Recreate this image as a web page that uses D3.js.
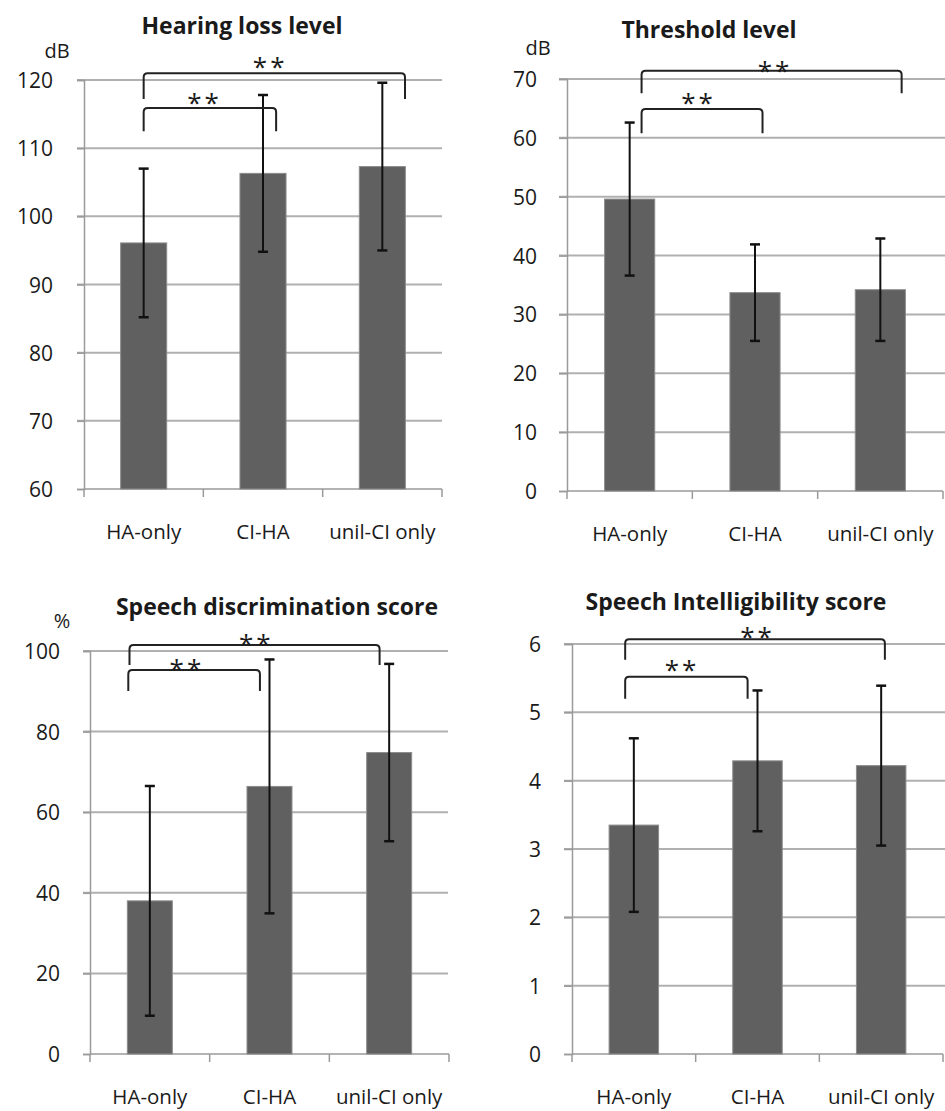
<!DOCTYPE html>
<html>
<head>
<meta charset="utf-8">
<script src="https://cdn.jsdelivr.net/npm/d3@7"></script>
<style>
  body { margin: 0; background: #fff; }
  text { font-family: "Open Sans", sans-serif; fill: #1a1a1a; }
</style>
</head>
<body>
<div id="chart"></div>
<script>
// data
var categories = ["HA-only", "CI-HA", "unil-CI only"];

var hearingMean = [96.1, 106.3, 107.3];
var hearingSD = [10.9, 11.5, 12.3];
var hearingTicks = [60, 70, 80, 90, 100, 110, 120];

var thresholdMean = [49.6, 33.7, 34.2];
var thresholdSD = [13.0, 8.2, 8.7];
var thresholdTicks = [0, 10, 20, 30, 40, 50, 60, 70];

var discMean = [38.0, 66.4, 74.8];
var discSD = [28.5, 31.5, 22.0];
var discTicks = [0, 20, 40, 60, 80, 100];

var intelMean = [3.35, 4.29, 4.22];
var intelSD = [1.27, 1.03, 1.17];
var intelTicks = [0, 1, 2, 3, 4, 5, 6];

// significance brackets: positions in category-index units, heights in data units
var hearingBrackets = [
  {from: 0, to: 2.19, y: 121.0, leg: 3.8, starX: 1.06, starY: 122.6},
  {from: 0, to: 1.11, y: 115.9, leg: 3.4, starX: 0.51, starY: 117.3}
];
var thresholdBrackets = [
  {from: 0.095, to: 2.17, y: 71.4, leg: 3.8, starX: 1.16, starY: 72.2},
  {from: 0.095, to: 1.06, y: 64.9, leg: 4.1, starX: 0.55, starY: 66.8}
];
var discBrackets = [
  {from: -0.17, to: 1.92, y: 101.5, leg: 5.0, starX: 0.89, starY: 103.0},
  {from: -0.18, to: 0.92, y: 95.3, leg: 5.2, starX: 0.31, starY: 96.8}
];
var intelBrackets = [
  {from: -0.07, to: 2.03, y: 6.07, leg: 0.30, starX: 1.0, starY: 6.18},
  {from: -0.07, to: 0.92, y: 5.52, leg: 0.32, starX: 0.39, starY: 5.69}
];

var panels = [
  {title: "Hearing loss level", unit: "dB", mean: hearingMean, sd: hearingSD, ticks: hearingTicks,
   brackets: hearingBrackets, left: 84, right: 442, top: 80, bottom: 489, gridLeft: 77, gridRight: 442,
   titleX: 242, titleY: 34, unitX: 57, unitY: 58, labelRight: 53, barRatio: 0.386},
  {title: "Threshold level", unit: "dB", mean: thresholdMean, sd: thresholdSD, ticks: thresholdTicks,
   brackets: thresholdBrackets, left: 567, right: 943, top: 79, bottom: 491, gridLeft: 559, gridRight: 945,
   titleX: 709, titleY: 38, unitX: 538, unitY: 55, labelRight: 537, barRatio: 0.40},
  {title: "Speech discrimination score", unit: "%", mean: discMean, sd: discSD, ticks: discTicks,
   brackets: discBrackets, left: 90, right: 449, top: 651, bottom: 1054, gridLeft: 83, gridRight: 448,
   titleX: 277, titleY: 615, unitX: 62, unitY: 628, labelRight: 60, barRatio: 0.376},
  {title: "Speech Intelligibility score", unit: "", mean: intelMean, sd: intelSD, ticks: intelTicks,
   brackets: intelBrackets, left: 572, right: 943, top: 644, bottom: 1054, gridLeft: 564, gridRight: 945,
   titleX: 736, titleY: 610, unitX: 0, unitY: 0, labelRight: 541, barRatio: 0.40}
];

var svg = d3.select("#chart").append("svg")
  .attr("width", 945)
  .attr("height", 1111);

panels.forEach(drawPanel);

function drawPanel(p) {
  var g = svg.append("g");
  var ticks = p.ticks;

  var x = d3.scaleBand().domain(categories).range([p.left, p.right]).padding(0);
  var bw = x.bandwidth();
  var y = d3.scaleLinear().domain([ticks[0], ticks[ticks.length - 1]]).range([p.bottom, p.top]);

  function xi(i) { return x(categories[0]) + bw / 2 + i * x.step(); }

  // gridlines
  g.selectAll("line.grid").data(ticks.slice(1)).enter().append("line")
    .attr("x1", p.gridLeft).attr("x2", p.gridRight)
    .attr("y1", function(d) { return y(d); }).attr("y2", function(d) { return y(d); })
    .style("stroke", "#b0b0b0").style("stroke-width", 2);

  // y axis
  var yAxis = d3.axisLeft(y)
    .tickValues(ticks)
    .tickFormat(d3.format("d"))
    .tickSize(p.left - p.gridLeft)
    .tickPadding(p.gridLeft - p.labelRight);
  var ya = g.append("g").attr("transform", "translate(" + p.left + ",0)").call(yAxis);
  ya.select(".domain").style("stroke", "#9a9a9a").style("stroke-width", 1.5);
  ya.selectAll(".tick line").style("stroke", "#9a9a9a").style("stroke-width", 1.5);
  ya.selectAll(".tick text").style("font-size", "21px").style("fill", "#1a1a1a").attr("dy", "0.36em");

  // x axis with ticks at band edges
  g.append("line").attr("x1", p.left).attr("x2", p.right).attr("y1", p.bottom).attr("y2", p.bottom)
    .style("stroke", "#9a9a9a").style("stroke-width", 1.5);
  var edges = categories.map(function(c) { return x(c); }).concat([p.right]);
  g.selectAll("line.xt").data(edges).enter().append("line")
    .attr("x1", function(d) { return d; }).attr("x2", function(d) { return d; })
    .attr("y1", p.bottom).attr("y2", p.bottom + 8)
    .style("stroke", "#9a9a9a").style("stroke-width", 1.5);
  g.selectAll("text.cat").data(categories).enter().append("text")
    .attr("x", function(d) { return x(d) + bw / 2; })
    .attr("y", p.bottom + 50)
    .attr("text-anchor", "middle")
    .style("font-size", "20.5px")
    .text(function(d) { return d; });

  // bars
  var barW = bw * p.barRatio;
  g.selectAll("rect.bar").data(p.mean).enter().append("rect")
    .attr("x", function(d, i) { return x(categories[i]) + (bw - barW) / 2; })
    .attr("width", barW)
    .attr("y", function(d) { return y(d); })
    .attr("height", function(d) { return p.bottom - y(d); })
    .style("fill", "#606060").style("stroke", "#8c8c8c").style("stroke-width", 1);

  // error bars
  var err = g.selectAll("g.err").data(p.mean).enter().append("g");
  err.append("line")
    .attr("x1", function(d, i) { return xi(i); }).attr("x2", function(d, i) { return xi(i); })
    .attr("y1", function(d, i) { return y(d + p.sd[i]); })
    .attr("y2", function(d, i) { return y(d - p.sd[i]); })
    .style("stroke", "#111").style("stroke-width", 2);
  [1, -1].forEach(function(s) {
    err.append("line")
      .attr("x1", function(d, i) { return xi(i) - 5; }).attr("x2", function(d, i) { return xi(i) + 5; })
      .attr("y1", function(d, i) { return y(d + s * p.sd[i]); })
      .attr("y2", function(d, i) { return y(d + s * p.sd[i]); })
      .style("stroke", "#111").style("stroke-width", 2.5);
  });

  // significance brackets
  p.brackets.forEach(function(b) {
    var x0 = xi(b.from), x1 = xi(b.to), yt = y(b.y), yb = y(b.y - b.leg), r = 4;
    g.append("path")
      .attr("d", "M" + x0 + "," + yb + "L" + x0 + "," + (yt + r) + "Q" + x0 + "," + yt + " " + (x0 + r) + "," + yt +
                 "L" + (x1 - r) + "," + yt + "Q" + x1 + "," + yt + " " + x1 + "," + (yt + r) + "L" + x1 + "," + yb)
      .style("fill", "none").style("stroke", "#222").style("stroke-width", 2);
    g.append("text")
      .attr("x", xi(b.starX)).attr("y", y(b.starY) + 14)
      .attr("text-anchor", "middle")
      .style("font-size", "26px")
      .style("letter-spacing", "3px")
      .text("**");
  });

  // title and unit
  g.append("text").attr("x", p.titleX).attr("y", p.titleY)
    .attr("text-anchor", "middle")
    .style("font-size", "23px").style("font-weight", "bold")
    .text(p.title);
  if (p.unit) {
    g.append("text").attr("x", p.unitX).attr("y", p.unitY)
      .attr("text-anchor", "middle")
      .style("font-size", "20px")
      .text(p.unit);
  }
}
</script>
</body>
</html>
